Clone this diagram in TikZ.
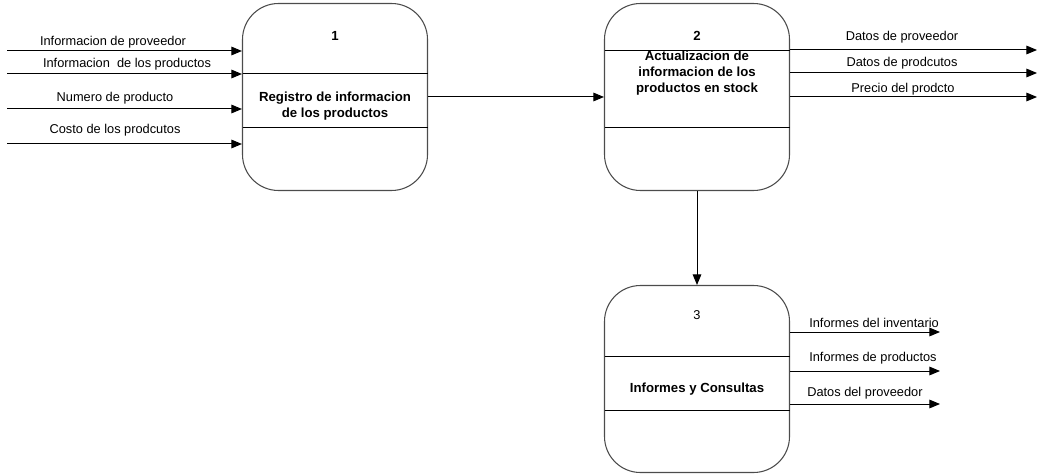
\documentclass[tikz,border=0pt]{standalone}
\usepackage{fontspec}
\setmainfont{Liberation Sans}
\usetikzlibrary{arrows.meta}

\tikzset{
  proceso/.style={draw=black!70, line width=0.8pt, rounded corners=27pt,
    minimum width=138.75pt, minimum height=140.25pt},
  flujo/.style={-{Triangle[length=8pt,width=6.5pt]}, line width=0.75pt},
  etiqueta/.style={font=\fontsize{9.6}{11}\selectfont, inner sep=0pt},
  titulo/.style={font=\fontsize{9.9}{12.2}\selectfont\bfseries, align=center, inner sep=0pt},
}

\begin{document}
\begin{tikzpicture}[x=0.75pt,y=-0.75pt]
\useasboundingbox (0,0) rectangle (1041,474);
% Procesos
\node[proceso] (p1) at (335,97) {};
\node[proceso] (p2) at (697,97) {};
\node[proceso] (p3) at (697,379) {};
\draw (242.5,73) -- (427.5,73);
\draw (242.5,127) -- (427.5,127);
\draw (604.5,50) -- (789.5,50);
\draw (604.5,127) -- (789.5,127);
\draw (604.5,356) -- (789.5,356);
\draw (604.5,410) -- (789.5,410);
\node[titulo] (n1) at (335,36) {1};
\node[titulo] (n2) at (697,36) {2};
\node[etiqueta] (n3) at (697,315) {3};
\node[titulo] (t1) at (335,106) {Registro de informacion\\de los productos};
\node[titulo] (t2) at (697,73) {Actualizacion de\\informacion de los\\productos en stock};
\node[titulo] (t3) at (697,389) {Informes y Consultas};
% Entradas
\coordinate (e1) at (7,51);
\coordinate (e2) at (7,74);
\coordinate (e3) at (7,109);
\coordinate (e4) at (7,144);
\draw[flujo] (e1) -- (p1.west |- e1);
\draw[flujo] (e2) -- (p1.west |- e2);
\draw[flujo] (e3) -- (p1.west |- e3);
\draw[flujo] (e4) -- (p1.west |- e4);
\node[etiqueta] (le1) at (113,42) {Informacion de proveedor};
\node[etiqueta] (le2) at (127,64) {Informacion\ \ de los productos};
\node[etiqueta] (le3) at (115,98) {Numero de producto};
\node[etiqueta] (le4) at (115,130) {Costo de los prodcutos};
% Entre procesos
\draw[flujo] (p1) -- (p2);
\draw[flujo] (p2) -- (p3);
% Salidas
\coordinate (s1) at (1037,50);
\coordinate (s2) at (1037,73);
\coordinate (s3) at (1037,97);
\draw[flujo] (p2.east |- s1) -- (s1);
\draw[flujo] (p2.east |- s2) -- (s2);
\draw[flujo] (p2.east |- s3) -- (s3);
\node[etiqueta] (ls1) at (902,37) {Datos de proveedor};
\node[etiqueta] (ls2) at (902,63) {Datos de prodcutos};
\node[etiqueta] (ls3) at (903,89) {Precio del prodcto};
\coordinate (r1) at (940,332);
\coordinate (r2) at (940,371);
\coordinate (r3) at (940,404);
\draw[flujo] (p3.east |- r1) -- (r1);
\draw[flujo] (p3.east |- r2) -- (r2);
\draw[flujo] (p3.east |- r3) -- (r3);
\node[etiqueta, anchor=west] (lr1) at (809,323) {Informes del inventario};
\node[etiqueta, anchor=west] (lr2) at (809,358) {Informes de productos};
\node[etiqueta, anchor=west] (lr3) at (807,393) {Datos del proveedor};
\end{tikzpicture}
\end{document}
